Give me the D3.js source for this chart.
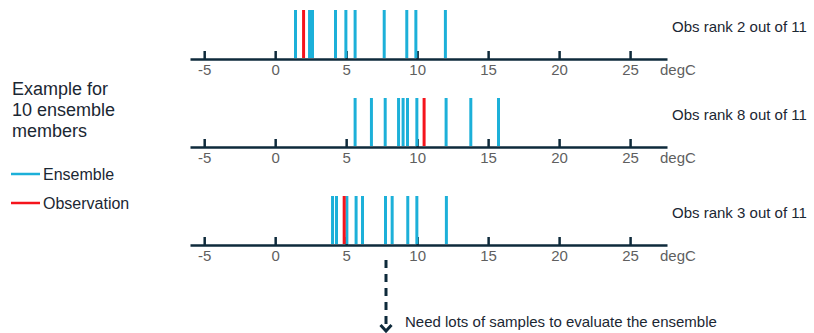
<!DOCTYPE html>
<html>
<head>
<meta charset="utf-8">
<script src="https://cdn.jsdelivr.net/npm/d3@7"></script>
<style>
  html, body { margin: 0; padding: 0; background: #fff; }
  svg { display: block; font-family: "Liberation Sans", Arial, sans-serif; }
</style>
</head>
<body>
<svg id="chart" width="814" height="333"></svg>
<script>
// ---- data ----
const panelNames = ["Obs rank 2 out of 11", "Obs rank 8 out of 11", "Obs rank 3 out of 11"];
const ensemble1 = [1.43, 2.42, 2.63, 4.25, 4.98, 5.63, 7.68, 9.27, 9.91, 11.99];
const ensemble2 = [5.63, 6.78, 7.75, 8.69, 9.01, 9.32, 9.98, 12.04, 13.78, 15.73];
const ensemble3 = [4.04, 4.32, 5.05, 5.70, 6.15, 7.77, 8.24, 9.34, 9.98, 12.06];
const observations = [2.0, 10.49, 4.86];
const tickValues = [-5, 0, 5, 10, 15, 20, 25];
const unitLabel = "degC";
const legendTitle = ["Example for", "10 ensemble", "members"];
const legendItems = ["Ensemble", "Observation"];
const note = "Need lots of samples to evaluate the ensemble";

// ---- styles ----
const BLUE = "#1cb0d9";
const RED = "#f5141c";
const AXIS = "#0e2a3b";
const TICKTXT = "#5f5f5f";
const TXT = "#1b2733";

const svg = d3.select("#chart");
const x = d3.scaleLinear().domain([-6, 27.6]).range([190, 667]);
const axisY = [59, 147, 245];
const lineH = 49;
const ensembles = [ensemble1, ensemble2, ensemble3];

ensembles.forEach((ens, i) => {
  const g = svg.append("g").attr("transform", `translate(0,${axisY[i]})`);
  const axis = d3.axisBottom(x)
    .tickValues(tickValues)
    .tickFormat(d => String(d))
    .tickSizeInner(-8)
    .tickSizeOuter(0)
    .tickPadding(5);
  const ag = g.append("g").call(axis);
  ag.attr("font-family", null);
  ag.select(".domain").attr("stroke", AXIS).attr("stroke-width", 2.5);
  ag.selectAll(".tick line").attr("stroke", AXIS).attr("stroke-width", 2.5);
  ag.selectAll(".tick text").attr("fill", TICKTXT).attr("font-size", 15);

  g.append("text").attr("x", x.range()[1] - 7).attr("y", 16)
    .attr("fill", TICKTXT).attr("font-size", 15).text(unitLabel);

  g.selectAll("line.ens").data(ens).join("line").attr("class", "ens")
    .attr("x1", d => x(d)).attr("x2", d => x(d))
    .attr("y1", -1).attr("y2", -lineH)
    .attr("stroke", BLUE).attr("stroke-width", 3);

  g.append("line")
    .attr("x1", x(observations[i])).attr("x2", x(observations[i]))
    .attr("y1", -1).attr("y2", -lineH)
    .attr("stroke", RED).attr("stroke-width", 3);

  g.append("text").attr("x", 672).attr("y", -27)
    .attr("fill", TXT).attr("font-size", 15).text(panelNames[i]);
});

// Legend
svg.append("g").selectAll("text").data(legendTitle).join("text")
  .attr("x", 12).attr("y", (d, i) => 95 + i * 21)
  .attr("fill", TXT).attr("font-size", 18).text(d => d);

const legColors = [BLUE, RED];
const lg = svg.append("g").selectAll("g").data(legendItems).join("g")
  .attr("transform", (d, i) => `translate(0,${174 + i * 29})`);
lg.append("line").attr("x1", 11).attr("x2", 40).attr("y1", 0).attr("y2", 0)
  .attr("stroke", (d, i) => legColors[i]).attr("stroke-width", 2.5);
lg.append("text").attr("x", 43).attr("y", 5.5)
  .attr("fill", TXT).attr("font-size", 16).text(d => d);

// Dashed arrow
svg.append("line").attr("x1", 386).attr("x2", 386).attr("y1", 260).attr("y2", 326)
  .attr("stroke", AXIS).attr("stroke-width", 3).attr("stroke-dasharray", "8,6");
svg.append("path").attr("d", "M380.5,325 L386,331 L391.5,325")
  .attr("fill", "none").attr("stroke", AXIS).attr("stroke-width", 3);

svg.append("text").attr("x", 405).attr("y", 327)
  .attr("fill", TXT).attr("font-size", 15).text(note);
</script>
</body>
</html>
